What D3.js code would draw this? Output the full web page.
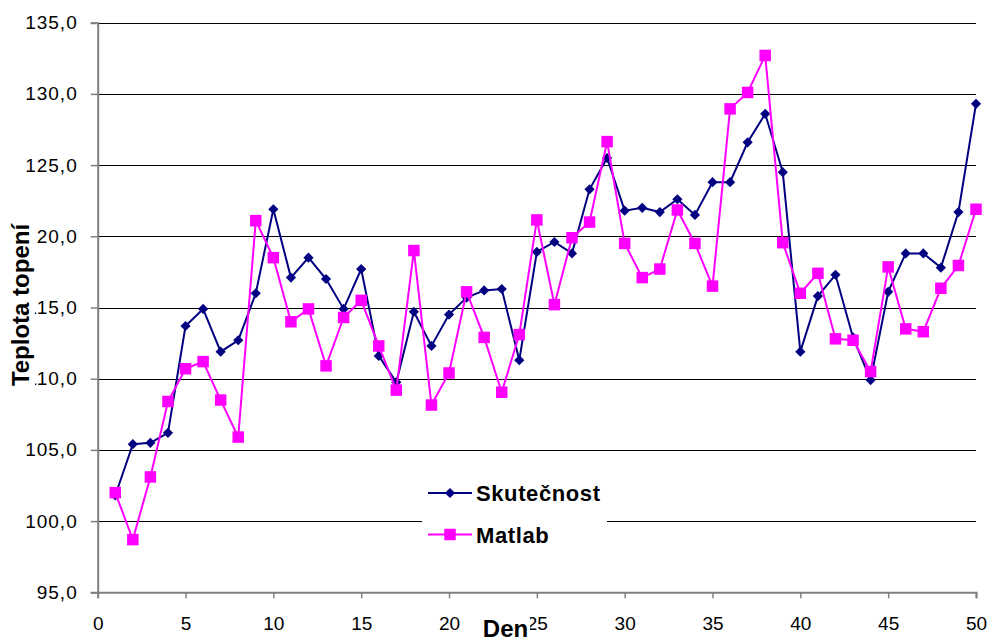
<!DOCTYPE html>
<html>
<head>
<meta charset="utf-8">
<script src="https://cdn.jsdelivr.net/npm/d3@7"></script>
<style>
  html, body { margin: 0; padding: 0; background: #fff; }
  svg { display: block; }
  text { font-family: "Liberation Sans", Arial, sans-serif; }
</style>
</head>
<body>
<svg id="chart" width="991" height="641"></svg>
<script>
const days = [1,2,3,4,5,6,7,8,9,10,11,12,13,14,15,16,17,18,19,20,21,22,23,24,25,26,27,28,29,30,31,32,33,34,35,36,37,38,39,40,41,42,43,44,45,46,47,48,49,50];
const skutecnost = [101.8,105.4,105.5,106.2,113.7,114.9,111.9,112.7,116.0,121.9,117.1,118.5,117.0,114.9,117.7,111.6,109.75,114.7,112.3,114.5,115.7,116.2,116.3,111.3,118.9,119.6,118.8,123.3,125.5,121.8,122.0,121.7,122.6,121.5,123.8,123.8,126.6,128.6,124.5,111.9,115.8,117.3,112.9,109.9,116.1,118.8,118.8,117.8,121.7,129.3];
const matlab = [102.0,98.7,103.1,108.4,110.7,111.2,108.5,105.9,121.1,118.5,114.0,114.9,110.9,114.3,115.5,112.3,109.2,119.0,108.15,110.4,116.1,112.9,109.05,113.1,121.15,115.2,119.9,121.0,126.65,119.5,117.1,117.7,121.85,119.5,116.5,128.95,130.1,132.7,119.55,116.0,117.4,112.8,112.7,110.5,117.85,113.5,113.3,116.35,117.95,121.9];
const seriesNames = ["Skutečnost", "Matlab"];
const yTicks = [95,100,105,110,115,120,125,130,135];
const xTicks = [0,5,10,15,20,25,30,35,40,45,50];
const yTitle = "Teplota topení";
const xTitle = "Den";

const svg = d3.select("#chart");
const x = d3.scaleLinear().domain([0, 50]).range([97.7, 976]);
const y = d3.scaleLinear().domain([95, 135]).range([592.3, 22.7]);
const fmt = v => d3.format(".1f")(v).replace(".", ",");

// gridlines
svg.append("g").selectAll("line").data(yTicks.filter(d => d > 95)).join("line")
  .attr("x1", x(0)).attr("x2", x(50))
  .attr("y1", d => Math.round(y(d)) + 0.5).attr("y2", d => Math.round(y(d)) + 0.5)
  .attr("stroke", "#000").attr("stroke-width", 1);

// y axis
const yAxis = d3.axisLeft(y).tickValues(yTicks).tickFormat(fmt).tickSize(7).tickPadding(13);
const gy = svg.append("g").attr("transform", `translate(${x(0)},0)`).call(yAxis);
gy.select(".domain").attr("stroke", "#808080").attr("stroke-width", 2);
gy.selectAll(".tick line").attr("stroke", "#808080").attr("stroke-width", 1.5);
gy.selectAll(".tick text").attr("font-size", 19).attr("fill", "#000")
  .attr("letter-spacing", "1px").attr("font-family", "Liberation Sans, Arial, sans-serif");

// x axis
const xAxis = d3.axisBottom(x).tickValues(xTicks).tickFormat(d3.format("d")).tickSize(6).tickPadding(18);
const gx = svg.append("g").attr("transform", `translate(0,${y(95)})`).call(xAxis);
gx.select(".domain").attr("stroke", "#808080").attr("stroke-width", 2);
gx.selectAll(".tick line").attr("stroke", "#808080").attr("stroke-width", 1.5);
gx.selectAll(".tick text").attr("font-size", 19).attr("fill", "#000")
  .attr("font-family", "Liberation Sans, Arial, sans-serif");

// series
const series = [
  { name: seriesNames[0], values: skutecnost, color: "#000080", shape: d3.symbolSquare, size: 52, rot: 45 },
  { name: seriesNames[1], values: matlab, color: "#FF00FF", shape: d3.symbolSquare, size: 132, rot: 0 }
];
const line = d3.line().x((d, i) => x(days[i])).y(d => y(d));
series.forEach(s => {
  svg.append("path").datum(s.values).attr("d", line)
    .attr("fill", "none").attr("stroke", s.color).attr("stroke-width", 2);
  svg.append("g").selectAll("path").data(s.values).join("path")
    .attr("transform", (d, i) => `translate(${x(days[i])},${y(d)}) rotate(${s.rot})`)
    .attr("d", d3.symbol().type(s.shape).size(s.size))
    .attr("fill", s.color);
});

// legend
const lg = svg.append("g");
lg.append("rect").attr("x", 422).attr("y", 476).attr("width", 185).attr("height", 78).attr("fill", "#fff");
series.forEach((s, i) => {
  const ly = 493 + i * 41.5;
  lg.append("line").attr("x1", 428).attr("x2", 472).attr("y1", ly).attr("y2", ly)
    .attr("stroke", s.color).attr("stroke-width", 2);
  lg.append("path").attr("transform", `translate(450,${ly}) rotate(${s.rot})`)
    .attr("d", d3.symbol().type(s.shape).size(s.size)).attr("fill", s.color);
  lg.append("text").attr("x", 476).attr("y", ly + 8).text(s.name)
    .attr("font-size", 22).attr("font-weight", "bold").attr("letter-spacing", "0.6px").attr("fill", "#000");
});

// y title
svg.append("rect").attr("x", 7).attr("y", 214).attr("width", 28).attr("height", 182).attr("fill", "#fff");
svg.append("text").attr("transform", "translate(29,305) rotate(-90)")
  .attr("text-anchor", "middle").attr("font-size", 24).attr("font-weight", "bold").attr("fill", "#000")
  .text(yTitle);

// x title
svg.append("rect").attr("x", 481).attr("y", 618).attr("width", 49).attr("height", 23).attr("fill", "#fff");
svg.append("text").attr("x", 505.5).attr("y", 637).attr("text-anchor", "middle")
  .attr("font-size", 24).attr("font-weight", "bold").attr("fill", "#000").text(xTitle);
</script>
</body>
</html>
